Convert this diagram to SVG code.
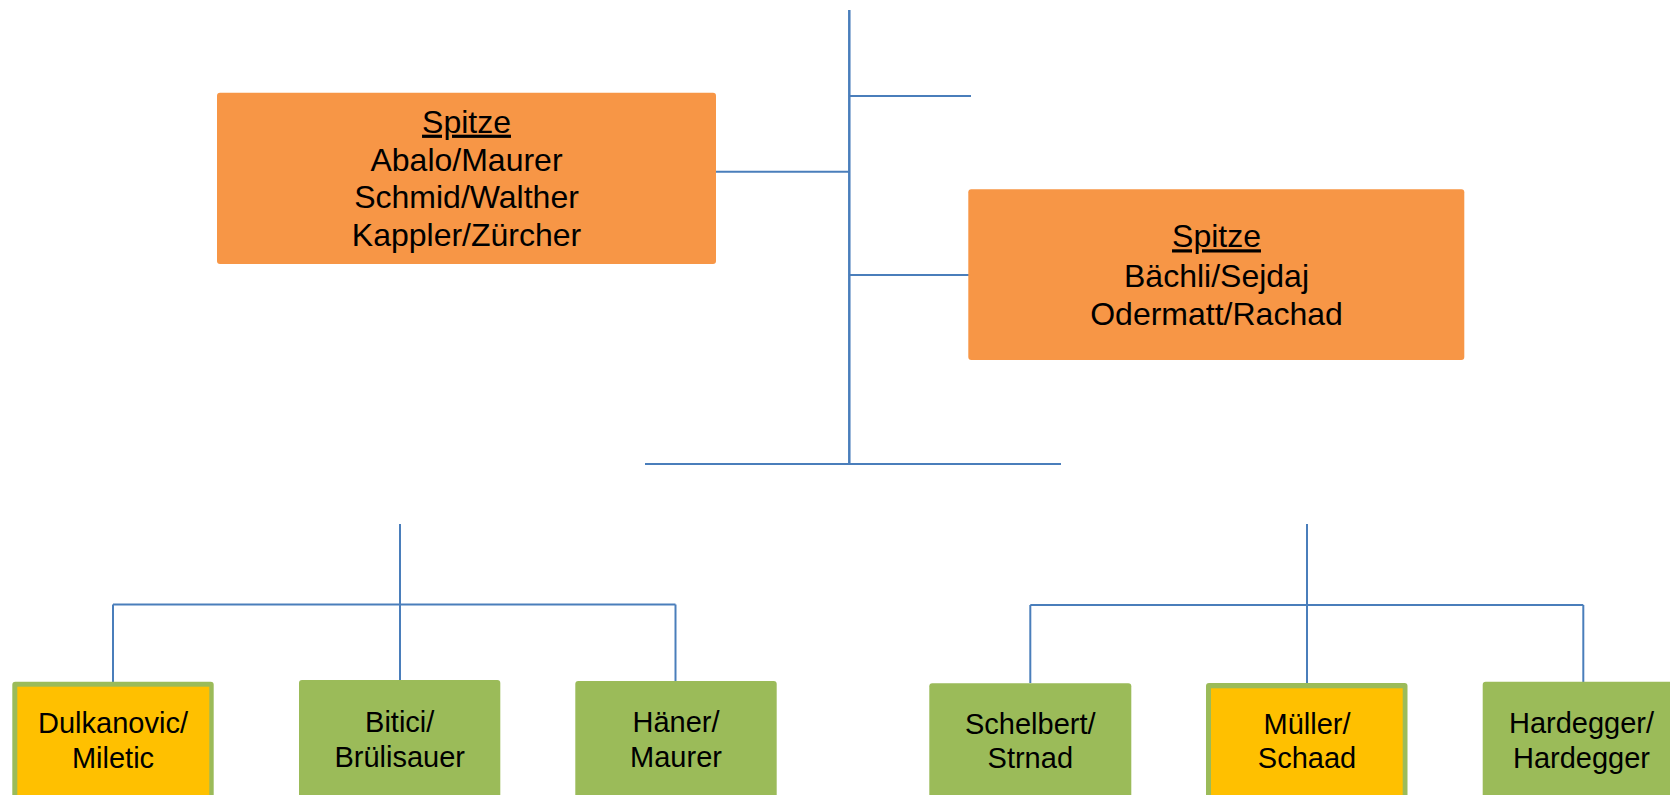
<svg xmlns="http://www.w3.org/2000/svg" width="1670" height="795" viewBox="0 0 1670 795">
<style>
.bg{fill:#ffffff}
.orange{fill:#F79646}
.green{fill:#9BBB59}
.yellow{fill:#FFC000}
.ln{stroke:#4A7EBB;stroke-width:2;fill:none}
.ln3{stroke:#4A7EBB;stroke-width:2.5;fill:none}
.t{font-family:"Liberation Sans",Arial,sans-serif;fill:#000;text-anchor:middle}
.big{font-size:32px}
.small{font-size:29px}
.u{text-decoration:underline}
</style>
<rect class="bg" x="0" y="0" width="1670" height="795"/>
<g id="connectors">
  <line class="ln3" x1="849.3" y1="10" x2="849.3" y2="464"/>
  <line class="ln" x1="849.3" y1="96" x2="971" y2="96"/>
  <line class="ln" x1="716" y1="171.7" x2="849.3" y2="171.7"/>
  <line class="ln" x1="849.3" y1="275" x2="969" y2="275"/>
  <line class="ln" x1="645" y1="464" x2="1061" y2="464"/>
  <line class="ln" x1="400" y1="524" x2="400" y2="681"/>
  <line class="ln" x1="113" y1="604.5" x2="675.5" y2="604.5"/>
  <line class="ln" x1="113" y1="604.5" x2="113" y2="682"/>
  <line class="ln" x1="675.5" y1="604.5" x2="675.5" y2="682"/>
  <line class="ln" x1="1307" y1="524" x2="1307" y2="683"/>
  <line class="ln" x1="1030.3" y1="605" x2="1583.3" y2="605"/>
  <line class="ln" x1="1030.3" y1="605" x2="1030.3" y2="683"/>
  <line class="ln" x1="1583.3" y1="605" x2="1583.3" y2="682"/>
</g>
<g id="spitze1">
  <rect class="orange" x="217" y="92.7" width="499" height="171.3" rx="3"/>
  <text class="t big u" x="466.5" y="132.7">Spitze</text>
  <text class="t big" x="466.5" y="170.7">Abalo/Maurer</text>
  <text class="t big" x="466.5" y="208.3">Schmid/Walther</text>
  <text class="t big" x="466.5" y="246">Kappler/Zürcher</text>
</g>
<g id="spitze2">
  <rect class="orange" x="968.3" y="189.3" width="496" height="170.7" rx="3"/>
  <text class="t big u" x="1216.5" y="247.3">Spitze</text>
  <text class="t big" x="1216.5" y="286.7">Bächli/Sejdaj</text>
  <text class="t big" x="1216.5" y="325">Odermatt/Rachad</text>
</g>
<g id="dulkanovic">
  <rect class="green" x="12.3" y="681.7" width="201.4" height="130" rx="3"/>
  <rect class="yellow" x="17.3" y="686.7" width="192" height="130"/>
  <text class="t small" x="113" y="733.3">Dulkanovic/</text>
  <text class="t small" x="113" y="768.3">Miletic</text>
</g>
<g id="bitici">
  <rect class="green" x="299" y="680" width="201.3" height="130" rx="3"/>
  <text class="t small" x="399.7" y="731.7">Bitici/</text>
  <text class="t small" x="399.7" y="766.5">Brülisauer</text>
</g>
<g id="haener">
  <rect class="green" x="575.3" y="681" width="201.4" height="130" rx="3"/>
  <text class="t small" x="676" y="731.7">Häner/</text>
  <text class="t small" x="676" y="766.5">Maurer</text>
</g>
<g id="schelbert">
  <rect class="green" x="929.3" y="683.3" width="202" height="130" rx="3"/>
  <text class="t small" x="1030.3" y="734.3">Schelbert/</text>
  <text class="t small" x="1030.3" y="768.3">Strnad</text>
</g>
<g id="mueller">
  <rect class="green" x="1206" y="683" width="201.5" height="130" rx="3"/>
  <rect class="yellow" x="1211" y="688.3" width="191.7" height="130"/>
  <text class="t small" x="1307" y="734.3">Müller/</text>
  <text class="t small" x="1307" y="768.3">Schaad</text>
</g>
<g id="hardegger">
  <rect class="green" x="1482.7" y="681.7" width="202" height="130" rx="3"/>
  <text class="t small" x="1581.5" y="733.3">Hardegger/</text>
  <text class="t small" x="1581.5" y="767.5">Hardegger</text>
</g>
</svg>
